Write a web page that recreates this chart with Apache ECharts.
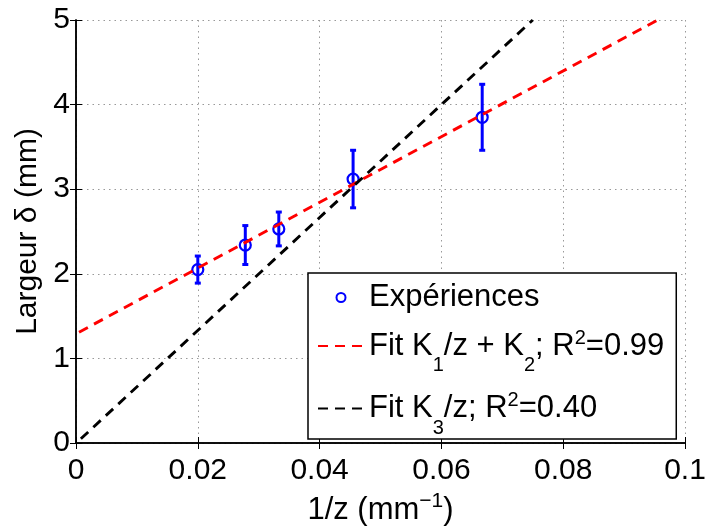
<!DOCTYPE html>
<html>
<head>
<meta charset="utf-8">
<script src="https://cdn.jsdelivr.net/npm/echarts@6/dist/echarts.min.js"></script>
<style>html,body{margin:0;padding:0;background:#fff;}#c{width:705px;height:526px;}</style>
</head>
<body>
<div id="c"></div>
<script>
// ---- data ----
const xValues = [0.0200, 0.0278, 0.0333, 0.0455, 0.0667];   // 1/z (mm^-1)
const yValues = [2.05, 2.34, 2.53, 3.12, 3.85];             // Largeur (mm)
const yErrors = [0.16, 0.23, 0.20, 0.34, 0.39];             // half error bar
const fit1Line = [[0.0005, 1.31], [0.0955, 5.0]];           // K1/z + K2 fit
const fit2Line = [[0.0008, 0.05], [0.0750, 5.0]];           // K3/z fit
const xTicks = [0, 0.02, 0.04, 0.06, 0.08, 0.1];
const yTicks = [0, 1, 2, 3, 4, 5];
const seriesNames = ['Expériences', 'Fit K1/z + K2; R2=0.99', 'Fit K3/z; R2=0.40'];

const FONT = "'Liberation Sans', Arial, Helvetica, sans-serif";
const chart = echarts.init(document.getElementById('c'), null, {renderer: 'canvas'});

const legendRich = {
  plain: {fontSize: 31, fontFamily: FONT, color: '#000', lineHeight: 36},
  main: {fontSize: 31, fontFamily: FONT, color: '#000', lineHeight: 59},
  sub: {fontSize: 20, fontFamily: FONT, color: '#000', lineHeight: 19, verticalAlign: 'bottom'},
  sup: {fontSize: 20, fontFamily: FONT, color: '#000', lineHeight: 19, padding: [0, 0, 16, 0]}
};

function legendFormat(name) {
  if (name === seriesNames[0]) return '{plain|Expériences}';
  if (name === seriesNames[1]) return '{main|Fit K}{sub|1}{main|/z + K}{sub|2}{main|; R}{sup|2}{main|=0.99}';
  return '{main|Fit K}{sub|3}{main|/z; R}{sup|2}{main|=0.40}';
}

const axisCommon = {
  axisLine: {show: true, lineStyle: {color: '#000', width: 1.5}},
  axisTick: {show: true, inside: true, length: 6, lineStyle: {color: '#000', width: 1}},
};

const option = {
  animation: false,
  backgroundColor: '#fff',
  grid: {left: 76, right: 20, top: 20, bottom: 83, containLabel: false, outerBoundsMode: 'none'},
  xAxis: [
    Object.assign({
      type: 'value', position: 'bottom', min: xTicks[0], max: xTicks[xTicks.length - 1], interval: 0.02,
      axisLabel: {fontSize: 30, fontFamily: FONT, color: '#000', margin: 13,
        formatter: v => String(+v.toFixed(2))},
      splitLine: {show: true, lineStyle: {color: '#999', width: 1, type: [1.5, 4]}},
      name: '1/z (mm{sup|−1})', nameLocation: 'middle', nameGap: 48,
      nameTextStyle: {fontSize: 31, fontFamily: FONT, color: '#000',
        rich: {sup: {fontSize: 21, fontFamily: FONT, color: '#000', padding: [0, 0, 18, 0]}}}
    }, axisCommon),
    Object.assign({
      type: 'value', position: 'top', min: 0, max: 0.1, interval: 0.02,
      axisLabel: {show: false}, splitLine: {show: false}
    }, axisCommon)
  ],
  yAxis: [
    Object.assign({
      type: 'value', position: 'left', min: yTicks[0], max: yTicks[yTicks.length - 1], interval: 1,
      axisLabel: {fontSize: 30, fontFamily: FONT, color: '#000', margin: 6},
      splitLine: {show: true, lineStyle: {color: '#999', width: 1, type: [1.5, 4]}},
      name: 'Largeur δ (mm)', nameLocation: 'middle', nameGap: 32,
      nameTextStyle: {fontSize: 30, fontFamily: FONT, color: '#000'}
    }, axisCommon),
    Object.assign({
      type: 'value', position: 'right', min: 0, max: 5, interval: 1,
      axisLabel: {show: false}, splitLine: {show: false}
    }, axisCommon)
  ],
  legend: {
    orient: 'vertical', left: 308, top: 273,
    padding: [9, 12, 1, 9], itemGap: 15,
    itemWidth: 46, itemHeight: 9,
    backgroundColor: '#fff', borderColor: '#000', borderWidth: 1.5, borderRadius: 0,
    z: 10,
    selectedMode: false,
    data: [
      {name: seriesNames[0], icon: 'circle', itemStyle: {color: '#fff', borderColor: '#0000ff', borderWidth: 2}},
      {name: seriesNames[1], itemStyle: {opacity: 0}},
      {name: seriesNames[2], itemStyle: {opacity: 0}}
    ],
    formatter: legendFormat,
    textStyle: {fontSize: 31, fontFamily: FONT, color: '#000', rich: legendRich}
  },
  series: [
    {
      name: 'errorbars', type: 'custom', xAxisIndex: 0, yAxisIndex: 0,
      data: xValues.map((x, i) => [x, yValues[i], yErrors[i]]),
      renderItem: function (params, api) {
        const x = api.value(0), y = api.value(1), e = api.value(2);
        const top = api.coord([x, y + e]);
        const bot = api.coord([x, y - e]);
        const hw = 3;
        const st = {stroke: '#0000ff', lineWidth: 3};
        return {type: 'group', children: [
          {type: 'line', shape: {x1: top[0], y1: top[1], x2: bot[0], y2: bot[1]}, style: st},
          {type: 'line', shape: {x1: top[0] - hw, y1: top[1], x2: top[0] + hw, y2: top[1]}, style: st},
          {type: 'line', shape: {x1: bot[0] - hw, y1: bot[1], x2: bot[0] + hw, y2: bot[1]}, style: st}
        ]};
      },
      z: 2
    },
    {
      name: seriesNames[0], type: 'scatter',
      data: xValues.map((x, i) => [x, yValues[i]]),
      symbol: 'circle', symbolSize: 11,
      itemStyle: {color: 'rgba(255,255,255,0)', borderColor: '#0000ff', borderWidth: 2.2, opacity: 1},
      z: 3
    },
    {
      name: seriesNames[1], type: 'line', data: fit1Line, symbol: 'none',
      lineStyle: {color: '#ff0000', width: 2.9, type: [10, 7]},
      itemStyle: {color: '#ff0000'},
      z: 4
    },
    {
      name: seriesNames[2], type: 'line', data: fit2Line, symbol: 'none',
      lineStyle: {color: '#000000', width: 2.9, type: [10, 7]},
      itemStyle: {color: '#000000'},
      z: 4
    }
  ]
};
chart.setOption(option);
</script>
</body>
</html>
